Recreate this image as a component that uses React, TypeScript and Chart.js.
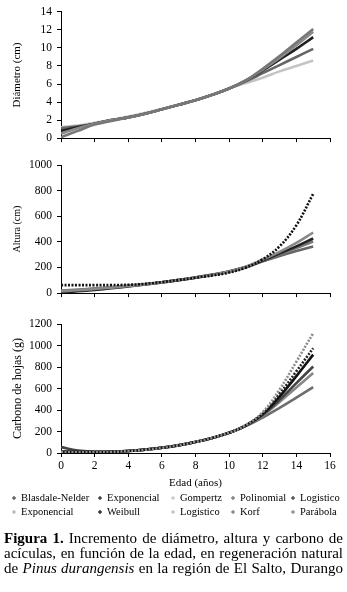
import React, { useEffect, useRef } from 'react';
import { Chart, registerables } from 'chart.js';

Chart.register(...registerables);
Chart.defaults.font.family = "'Liberation Serif', 'Times New Roman', serif";
Chart.defaults.color = '#000';

// ---------- data ----------
const AGES = [0, 1, 2, 3, 4, 5, 6, 7, 8, 9, 10, 11, 12, 13, 14, 15];
const X_TICKS = [0, 2, 4, 6, 8, 10, 12, 14, 16];

const DIAM_TICKS = [0, 2, 4, 6, 8, 10, 12, 14];
const ALT_TICKS = [0, 200, 400, 600, 800, 1000];
const CARB_TICKS = [0, 200, 400, 600, 800, 1000, 1200];

// Diámetro (cm)
const DIAM_A = [0.1, 0.8, 1.5, 1.9, 2.3, 2.7, 3.2, 3.7, 4.2, 4.8, 5.5, 6.4, 7.7, 9.1, 10.6, 12.1];
const DIAM_B = [0.5, 1.1, 1.6, 2.0, 2.3, 2.7, 3.2, 3.7, 4.2, 4.8, 5.5, 6.4, 7.6, 8.9, 10.3, 11.8];
const DIAM_C = [0.8, 1.2, 1.6, 2.0, 2.3, 2.7, 3.2, 3.7, 4.2, 4.8, 5.5, 6.4, 7.5, 8.7, 9.9, 11.2];
const DIAM_D = [1.1, 1.3, 1.6, 2.0, 2.3, 2.7, 3.2, 3.7, 4.2, 4.8, 5.5, 6.3, 7.2, 8.1, 9.0, 9.9];
const DIAM_E = [1.2, 1.4, 1.7, 2.0, 2.4, 2.8, 3.2, 3.7, 4.2, 4.8, 5.5, 6.1, 6.7, 7.4, 8.0, 8.6];

// Altura (cm)
const ALT_F = [62, 62, 62, 63, 65, 72, 86, 102, 120, 138, 160, 200, 264, 365, 530, 775];
const ALT_G = [15, 22, 32, 43, 55, 68, 84, 102, 122, 143, 168, 205, 262, 322, 392, 473];
const ALT_H = [5, 14, 25, 38, 52, 67, 83, 101, 121, 143, 168, 203, 255, 310, 365, 426];
const ALT_I = [20, 28, 37, 47, 58, 70, 85, 102, 121, 142, 166, 200, 250, 302, 352, 403];
const ALT_J = [10, 19, 30, 42, 55, 69, 85, 103, 123, 145, 170, 205, 248, 290, 328, 364];

// Carbono de hojas (g)
const CARB_K = [8, 6, 6, 10, 18, 30, 48, 72, 103, 140, 188, 260, 380, 590, 850, 1115];
const CARB_L = [10, 8, 8, 11, 19, 31, 49, 72, 103, 140, 188, 258, 370, 550, 760, 975];
const CARB_M = [12, 9, 9, 12, 19, 31, 49, 72, 103, 140, 188, 256, 362, 525, 715, 915];
const CARB_N = [55, 22, 12, 12, 18, 30, 48, 71, 102, 140, 188, 255, 355, 495, 650, 805];
const CARB_O = [5, 6, 8, 12, 19, 31, 49, 72, 103, 140, 188, 254, 350, 475, 610, 745];
const CARB_P = [15, 12, 11, 13, 20, 32, 50, 73, 104, 140, 187, 250, 330, 420, 515, 612];

const LEGEND_NAMES = ['Blasdale-Nelder', 'Exponencial', 'Gompertz', 'Polinomial', 'Logistico',
  'Exponencial', 'Weibull', 'Logistico', 'Korf', 'Parábola'];
const LEGEND_COLORS = ['#555555', '#333333', '#c8c8c8', '#777777', '#444444',
  '#b4b4b4', '#222222', '#c0c0c0', '#808080', '#8a8a8a'];

// ---------- series configs ----------
type Series = { label: string; values: number[]; color: string; dash?: number[] };

const DIAM_SERIES: Series[] = [
  { label: 'Korf', values: DIAM_A, color: '#777777' },
  { label: 'Polinomial', values: DIAM_B, color: '#8a8a8a' },
  { label: 'Weibull', values: DIAM_C, color: '#1e1e1e' },
  { label: 'Blasdale-Nelder', values: DIAM_D, color: '#666666' },
  { label: 'Gompertz', values: DIAM_E, color: '#c4c4c4' },
];
const ALT_SERIES: Series[] = [
  { label: 'Exponencial', values: ALT_F, color: '#111111', dash: [2, 1.5] },
  { label: 'Korf', values: ALT_G, color: '#888888' },
  { label: 'Weibull', values: ALT_H, color: '#222222' },
  { label: 'Logistico', values: ALT_I, color: '#777777' },
  { label: 'Polinomial', values: ALT_J, color: '#666666' },
];
const CARB_SERIES: Series[] = [
  { label: 'Parábola', values: CARB_K, color: '#8c8c8c', dash: [2, 1.5] },
  { label: 'Exponencial', values: CARB_L, color: '#222222', dash: [2, 1.5] },
  { label: 'Weibull', values: CARB_M, color: '#111111' },
  { label: 'Logistico', values: CARB_N, color: '#444444' },
  { label: 'Korf', values: CARB_O, color: '#888888' },
  { label: 'Blasdale-Nelder', values: CARB_P, color: '#6e6e6e' },
];

const FONT = "'Liberation Serif', 'Times New Roman', serif";

type PanelProps = {
  top: number;
  height: number;
  padTop: number;
  xAxisHeight: number;
  yTicks: number[];
  yTitle: string;
  yTitleSize: number;
  series: Series[];
  showX: boolean;
};

function Panel(p: PanelProps) {
  const ref = useRef<HTMLCanvasElement | null>(null);
  useEffect(() => {
    if (!ref.current) return;
    const chart = new Chart(ref.current, {
      type: 'line',
      data: {
        datasets: p.series.map((s) => ({
          label: s.label,
          data: AGES.map((a, i) => ({ x: a, y: s.values[i] })),
          borderColor: s.color,
          backgroundColor: s.color,
          borderWidth: 2.6,
          borderDash: s.dash || [],
          pointRadius: 0,
          tension: 0.4,
          fill: false,
        })),
      },
      options: {
        animation: false,
        responsive: false,
        layout: { padding: { left: 8, right: 17, top: p.padTop, bottom: 0 } },
        plugins: { legend: { display: false }, tooltip: { enabled: false } },
        scales: {
          x: {
            type: 'linear',
            min: 0,
            max: 16,
            afterFit: (s: any) => { s.height = p.xAxisHeight; },
            afterBuildTicks: (s: any) => { s.ticks = X_TICKS.map((v) => ({ value: v })); },
            ticks: {
              display: p.showX,
              color: '#000',
              font: { size: 11.5, family: FONT },
              padding: 2,
              maxRotation: 0,
              callback: (v: any) => String(v),
            },
            grid: { drawOnChartArea: false, drawTicks: true, tickLength: 4, color: '#000' },
            border: { display: true, color: '#000', width: 1 },
            title: {
              display: p.showX,
              text: 'Edad (años)',
              color: '#000',
              font: { size: 11, family: FONT },
              padding: { top: 0, bottom: 2 },
            },
          },
          y: {
            type: 'linear',
            min: p.yTicks[0],
            max: p.yTicks[p.yTicks.length - 1],
            afterFit: (s: any) => { s.width = 53; },
            afterBuildTicks: (s: any) => { s.ticks = p.yTicks.map((v) => ({ value: v })); },
            ticks: {
              color: '#000',
              font: { size: 11.5, family: FONT },
              padding: 5,
              callback: (v: any) => String(v),
            },
            grid: { drawOnChartArea: false, drawTicks: true, tickLength: 4, color: '#000' },
            border: { display: true, color: '#000', width: 1 },
            title: {
              display: true,
              text: p.yTitle,
              color: '#000',
              font: { size: p.yTitleSize, family: FONT },
              padding: { top: 3, bottom: 0 },
            },
          },
        },
      } as any,
    });
    return () => chart.destroy();
  }, []);
  return (
    <canvas
      ref={ref}
      width={347}
      height={p.height}
      style={{ position: 'absolute', left: 0, top: p.top, width: 347, height: p.height }}
    />
  );
}

const COL_STARTS = [10, 96, 169, 229, 289];

function Legend() {
  return (
    <div style={{ position: 'absolute', left: 0, top: 491, width: 347, fontFamily: FONT, fontSize: 10.5, lineHeight: '14px', color: '#000' }}>
      {LEGEND_NAMES.map((name, i) => {
        const row = Math.floor(i / 5);
        const col = i % 5;
        return (
          <div key={i} style={{ position: 'absolute', left: COL_STARTS[col], top: row * 14, whiteSpace: 'nowrap', display: 'flex', alignItems: 'center' }}>
            <svg width={6} height={6} style={{ marginRight: 4, marginLeft: 1 }}>
              <line x1={1} y1={3} x2={5} y2={3} stroke={LEGEND_COLORS[i]} strokeWidth={1.3} />
              <line x1={3} y1={1} x2={3} y2={5} stroke={LEGEND_COLORS[i]} strokeWidth={1.3} />
            </svg>
            <span>{name}</span>
          </div>
        );
      })}
    </div>
  );
}

function Caption() {
  const line: React.CSSProperties = { textAlign: 'justify', textAlignLast: 'justify' as any, whiteSpace: 'nowrap' };
  return (
    <div style={{ position: 'absolute', left: 4, top: 531, width: 339, fontFamily: FONT, fontSize: 15, lineHeight: '15px', color: '#000' }}>
      <div style={line}><b>Figura 1.</b> Incremento de diámetro, altura y carbono de</div>
      <div style={line}>acículas, en función de la edad, en regeneración natural</div>
      <div style={line}>de <i>Pinus durangensis</i> en la región de El Salto, Durango</div>
    </div>
  );
}

export default function App() {
  return (
    <div style={{ position: 'absolute', left: 0, top: 0, width: 347, height: 592, background: '#fff', overflow: 'hidden' }}>
      <Panel top={0} height={150} padTop={9} xAxisHeight={10} yTicks={DIAM_TICKS} yTitle="Diámetro (cm)" yTitleSize={11} series={DIAM_SERIES} showX={false} />
      <Panel top={150} height={155} padTop={15} xAxisHeight={11} yTicks={ALT_TICKS} yTitle="Altura (cm)" yTitleSize={10} series={ALT_SERIES} showX={false} />
      <Panel top={310} height={182} padTop={14} xAxisHeight={39} yTicks={CARB_TICKS} yTitle="Carbono de hojas (g)" yTitleSize={12} series={CARB_SERIES} showX={true} />
      <Legend />
      <Caption />
    </div>
  );
}
